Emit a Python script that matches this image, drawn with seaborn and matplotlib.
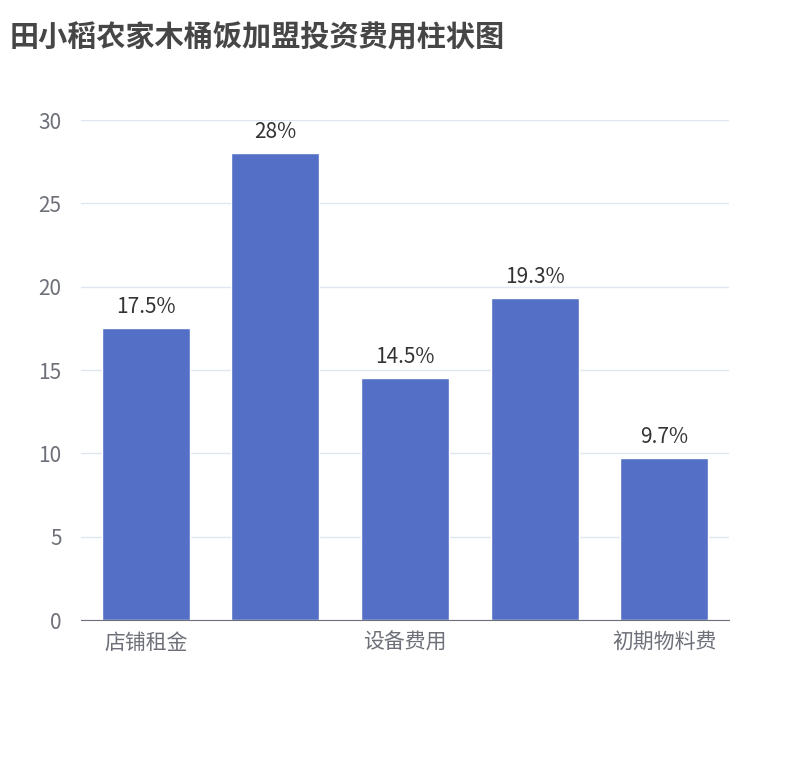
import matplotlib
matplotlib.use("Agg")
import matplotlib.pyplot as plt
import seaborn as sns
import pandas as pd

categories = ["店铺租金", "加盟费用", "设备费用", "装修费用", "初期物料费"]
values = [17.5, 28, 14.5, 19.3, 9.7]
labels = ["17.5%", "28%", "14.5%", "19.3%", "9.7%"]
shown = [True, False, True, False, True]

sns.set_style("white")
plt.rcParams['font.family'] = ['Noto Sans CJK SC', 'DejaVu Sans']

fig = plt.figure(figsize=(8.1, 7.6), dpi=100)
ax = fig.add_axes([0.1, 0.184, 0.8, 0.658])
df = pd.DataFrame({"cat": categories, "val": values})
sns.barplot(data=df, x="cat", y="val", color="#5470c6", saturation=1, width=0.68, ax=ax)
for p, lab in zip(ax.patches, labels):
    ax.text(p.get_x() + p.get_width() / 2, p.get_height() + 0.6, lab,
            ha="center", va="bottom", fontsize=15, color="#333333")
ax.set_xlim(-0.5, 4.5)
ax.set_ylim(0, 30)
ax.set_yticks([0, 5, 10, 15, 20, 25, 30])
ax.yaxis.grid(True, color="#e0e6f1", linewidth=1)
ax.set_axisbelow(True)
ax.set_xticks(range(5))
ax.set_xticklabels([c if s else "" for c, s in zip(categories, shown)])
ax.tick_params(axis="x", length=0, pad=8, labelsize=15, labelcolor="#6e7079")
ax.set_xticks([-0.5, 1.5, 3.5, 4.5], minor=True)
ax.tick_params(axis="x", which="minor", length=6, color="#6e7079", width=1)
ax.tick_params(axis="y", length=0, labelsize=15, labelcolor="#6e7079", pad=14)
ax.set_xlabel("")
ax.set_ylabel("")
for s in ["top", "right", "left"]:
    ax.spines[s].set_visible(False)
ax.spines["bottom"].set_color("#6e7079")
fig.text(0.012, 0.97, "田小稻农家木桶饭加盟投资费用柱状图", fontsize=21, fontweight="bold",
         color="#464646", va="top", ha="left")
fig.savefig("out.png", dpi=100)
